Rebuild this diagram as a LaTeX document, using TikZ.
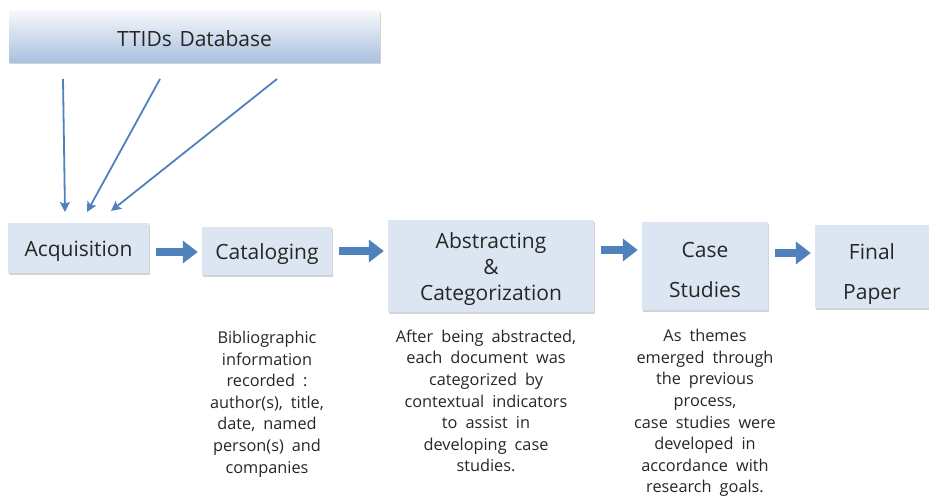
\documentclass[tikz,border=0pt]{standalone}
\usepackage{fontspec}
\setmainfont{Open Sans}[WordSpace=1.4]
\newfontfamily\notefont{Open Sans}[WordSpace=1.9]
\usetikzlibrary{arrows.meta,shadows}

\definecolor{boxblue}{HTML}{DCE6F2}
\definecolor{flowblue}{HTML}{4F81BD}
\definecolor{txtgray}{HTML}{262626}
\definecolor{dbtop}{HTML}{F7F9FC}
\definecolor{dbbottom}{HTML}{A9C1DF}

% extra room above the first line, pushes box text down a bit
\newcommand{\toproom}[1]{\rule{0pt}{#1}}

\tikzset{
  stage/.style={rectangle, fill=boxblue, text=txtgray, align=center,
    font=\fontsize{21}{26}\selectfont,
    drop shadow={shadow xshift=1pt, shadow yshift=-2pt, opacity=0.35}},
  note/.style={align=center, text=txtgray, font=\notefont\fontsize{16.3}{21.6}\selectfont},
  flow/.style={draw=flowblue, line width=8pt, shorten <=7pt, shorten >=4pt,
    -{Triangle[width=22pt,length=15pt]}},
  feed/.style={draw=flowblue, line width=1.8pt, -{Stealth[length=10pt,width=10pt,inset=2pt]}}
}

\begin{document}
\begin{tikzpicture}[x=1pt,y=-1pt]
\useasboundingbox (0,0) rectangle (929,498);
% source database
\node (db) at (194.5,36) [stage, minimum width=371pt, minimum height=52pt, top color=dbtop, bottom color=dbbottom] {\toproom{22pt}TTIDs Database};
% steps
\node (acq) at (78.5,248) [stage, minimum width=141pt, minimum height=50pt] {\toproom{22pt}Acquisition};
\node (cat) at (267,251) [stage, minimum width=130pt, minimum height=48pt] {\toproom{22pt}Cataloging};
\node (abs) at (491,266) [stage, minimum width=206pt, minimum height=92pt] {\toproom{23pt}Abstracting\\\&\\Categorization};
\node (case) at (705,266) [stage, minimum width=126pt, minimum height=88pt] {\toproom{24pt}Case\\[14pt]Studies};
\node (fin) at (872,266.5) [stage, minimum width=114pt, minimum height=83pt] {\toproom{32pt}Final\\[14pt]Paper};
% notes under the steps
\node (catnote) at (267,404) [note] {Bibliographic\\information\\recorded :\\author(s), title,\\date, named\\person(s) and\\companies};
\node (absnote) at (486,401) [note] {After being abstracted,\\each document was\\categorized by\\contextual indicators\\to assist in\\developing case\\studies.};
\node (casenote) at (705,413) [note] {As themes\\emerged through\\the previous\\process,\\case studies were\\developed in\\accordance with\\research goals.};

% feeds from the database
\coordinate (f1) at (63,79);
\coordinate (t1) at (65,212);
\coordinate (f2) at (160,79);
\coordinate (t2) at (87,212);
\coordinate (f3) at (277,79);
\coordinate (t3) at (111,211);
\draw[feed] (f1) -- (t1);
\draw[feed] (f2) -- (t2);
\draw[feed] (f3) -- (t3);

% main flow
\draw[flow] ([yshift=-4pt]acq.east) -- ([yshift=-4pt]acq.east -| cat.west);
\draw[flow] (cat.east) -- (cat.east -| abs.west);
\draw[flow] ([yshift=16pt]abs.east) -- ([yshift=16pt]abs.east -| case.west);
\draw[flow] ([yshift=13pt]case.east) -- ([yshift=13pt]case.east -| fin.west);
\end{tikzpicture}
\end{document}
